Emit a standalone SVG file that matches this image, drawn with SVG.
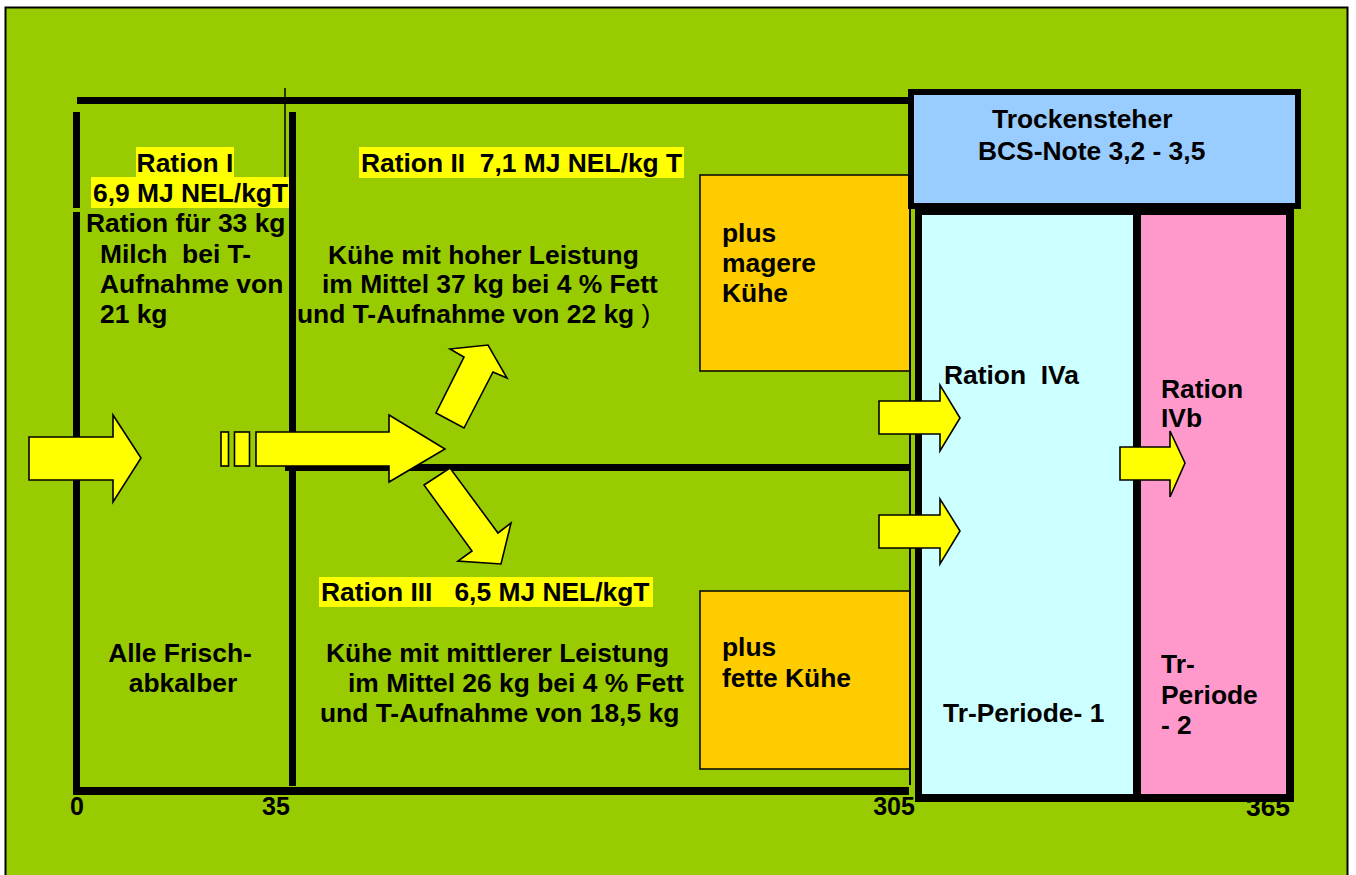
<svg xmlns="http://www.w3.org/2000/svg" width="1356" height="875" viewBox="0 0 1356 875" xml:space="preserve">
<style>
text{font-family:"Liberation Sans",Arial,Helvetica,sans-serif;font-weight:bold;font-size:26.4px;fill:#000;white-space:pre}
.ax{font-size:25px}
.hl{fill:#FFFF00}
.bar{fill:#000}
.org{fill:#FFCC00;stroke:#000;stroke-width:1.5}
.arr{fill:#FFFF00;stroke:#000;stroke-width:1.6;stroke-linejoin:miter}
.mid{text-anchor:middle}
</style>
<rect id="frame" x="5.5" y="7.5" width="1342" height="872" fill="#99CC00" stroke="#000" stroke-width="2"/>

<g id="timeline">
  <rect class="bar" x="77" y="97" width="833" height="7"/>
  <rect class="bar" x="73" y="112" width="7" height="96"/>
  <rect class="bar" x="73" y="212" width="7" height="583"/>
  <rect class="bar" x="289" y="112" width="7" height="674"/>
  <rect class="bar" x="285" y="464" width="625" height="7"/>
  <rect class="bar" x="73" y="787" width="836" height="8"/>
  <line x1="285" y1="88" x2="285" y2="178" stroke="#000" stroke-width="1.5"/>
</g>

<g id="ration-1">
  <rect class="hl" x="136" y="147" width="98" height="30"/>
  <rect class="hl" x="91" y="177" width="198" height="31"/>
  <text x="185" y="172" class="mid">Ration I</text>
  <text x="93" y="202">6,9 MJ NEL/kgT</text>
  <text x="86" y="232">Ration für 33 kg</text>
  <text x="100" y="263">Milch  bei T-</text>
  <text x="100" y="293">Aufnahme von</text>
  <text x="100" y="323">21 kg</text>
  <text x="180" y="662" class="mid">Alle Frisch-</text>
  <text x="183" y="692" class="mid">abkalber</text>
</g>

<g id="ration-2">
  <rect class="hl" x="359" y="147" width="325" height="31"/>
  <text x="361" y="172">Ration II  7,1 MJ NEL/kg T</text>
  <text x="328" y="264">Kühe mit hoher Leistung</text>
  <text x="322" y="293">im Mittel 37 kg bei 4 % Fett</text>
  <text x="297" y="323">und T-Aufnahme von 22 kg <tspan font-weight="normal">)</tspan></text>
</g>

<g id="ration-3">
  <rect class="hl" x="319" y="577" width="334" height="30"/>
  <text x="321" y="601">Ration III   6,5 MJ NEL/kgT</text>
  <text x="326" y="662">Kühe mit mittlerer Leistung</text>
  <text x="348" y="692">im Mittel 26 kg bei 4 % Fett</text>
  <text x="320" y="722">und T-Aufnahme von 18,5 kg</text>
</g>

<g id="magere">
  <rect class="org" x="700" y="175" width="210" height="196"/>
  <text x="722" y="242">plus</text>
  <text x="722" y="272">magere</text>
  <text x="722" y="302">Kühe</text>
</g>

<g id="fette">
  <rect class="org" x="700" y="591" width="210" height="178"/>
  <text x="722" y="656">plus</text>
  <text x="722" y="687">fette Kühe</text>
</g>

<line x1="910" y1="209" x2="910" y2="785" stroke="#000" stroke-width="2"/>

<g id="axis">
  <text x="77" y="815" class="ax mid">0</text>
  <text x="276" y="815" class="ax mid">35</text>
  <text x="894" y="815" class="ax mid">305</text>
  <text x="1268" y="816" class="mid" font-size="22">365</text>
</g>

<g id="trockensteher">
  <rect x="911" y="92" width="387" height="114" fill="#99CCFF" stroke="#000" stroke-width="6"/>
  <text x="992" y="128">Trockensteher</text>
  <text x="978" y="160">BCS-Note 3,2 - 3,5</text>
</g>

<rect x="915" y="209" width="379" height="593" fill="#000"/>

<g id="tr-periode-1">
  <rect x="922" y="215" width="211" height="579" fill="#CCFFFF"/>
  <text x="944" y="384">Ration  IVa</text>
  <text x="943" y="722">Tr-Periode- 1</text>
</g>

<g id="tr-periode-2">
  <rect x="1141" y="215" width="145" height="579" fill="#FF99CC"/>
  <text x="1161" y="398">Ration</text>
  <text x="1161" y="427">IVb</text>
  <text x="1161" y="673">Tr-</text>
  <text x="1161" y="704">Periode</text>
  <text x="1161" y="734">- 2</text>
</g>

<g id="connectors">
  <polygon class="arr" points="29,437 113,437 113,415 141,458 113,502 113,480 29,480"/>
  <rect class="arr" x="221" y="432" width="7.5" height="34"/>
  <rect class="arr" x="234.5" y="432" width="15" height="34"/>
  <polygon class="arr" points="256,432 389,432 389,415 445,449 389,482 389,466 256,466"/>
  <polygon class="arr" points="436,413 464,428 493,372 507,378 488,345 450,349 464,357"/>
  <polygon class="arr" points="424,485 450,468 498,533 511,523 501,564 458,561 472,551"/>
  <polygon class="arr" points="879,401 940,401 940,385 960,418 940,451 940,434 879,434"/>
  <polygon class="arr" points="879,515 940,515 940,499 960,531 940,564 940,548 879,548"/>
  <polygon class="arr" points="1120,447 1170,447 1170,431 1185,463 1170,497 1170,480 1120,480"/>
</g>
</svg>
